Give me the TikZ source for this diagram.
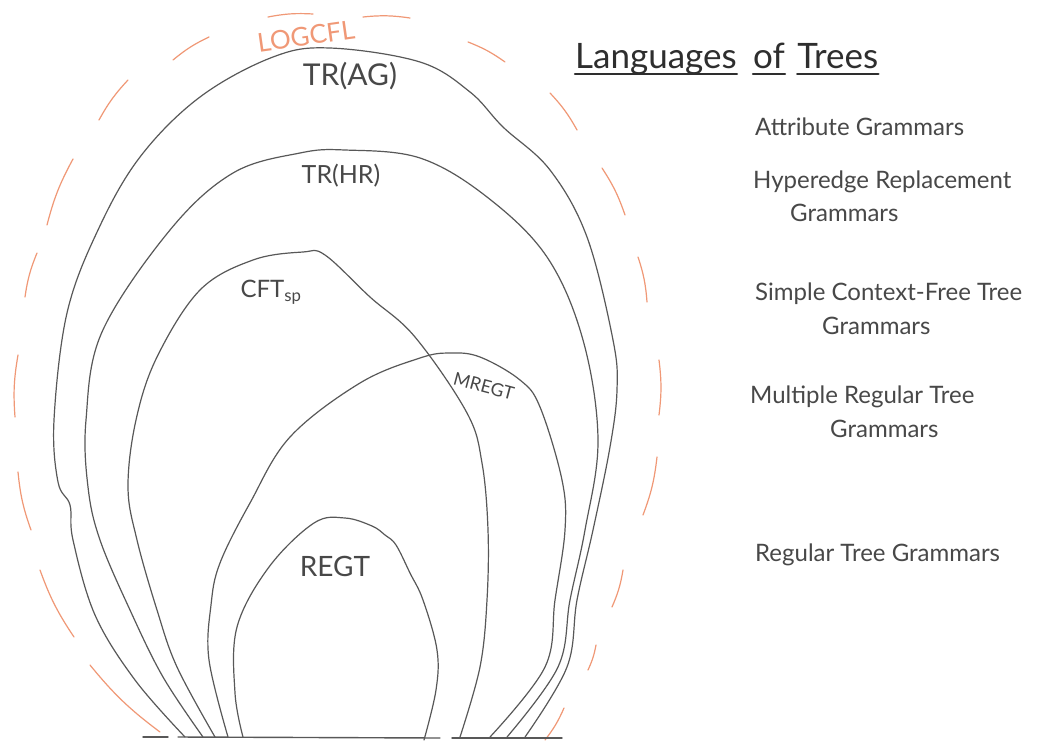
\documentclass[tikz,border=0pt]{standalone}
\usepackage{fontspec}
\setmainfont{Lato}
\usetikzlibrary{positioning}
\definecolor{inkgray}{RGB}{88,88,88}
\definecolor{inktext}{RGB}{72,72,72}
\definecolor{logorange}{RGB}{240,152,118}
\tikzset{region/.style={draw=inkgray,line width=1.2pt},
 groundline/.style={draw=inkgray,line width=1.4pt},
 logdash/.style={draw=logorange,line width=1.2pt},
 classlbl/.style={text=inktext,inner sep=0pt},
 gramlbl/.style={text=inktext,inner sep=0pt,anchor=west,font=\fontsize{24}{28}\selectfont},
 titleword/.style={text=black!82,inner sep=0pt,font=\fontsize{35}{40}\selectfont},
 uline/.style={draw=black!82,line width=2.2pt},
 every picture/.style={line join=round,line cap=round}}

\begin{document}
\begin{tikzpicture}[x=1pt,y=-1pt]
\path[fill=white] (0,0) rectangle (1043,744);
% LOGCFL, dashed outline
\foreach \xa/\ya/\xb/\yb in {160/732/90/665, 74/637/40/570, 31/530/18/472, 15/417/18/355,
 25/297/37/253, 47/225/73/159, 99/120/128/80, 173/60/209/37, 268/17/313/14, 363/17/410/18,
 468/42/505/62, 550/93/577/130, 602/168/625/215, 638/257/647/302, 659/360/659/415,
 657/457/643/515, 623/570/612/607, 596/645/588/670, 564/708/545/740}
 \draw[logdash] (\xa,\ya) to[bend left=7] (\xb,\yb);
\node[classlbl,text=logorange,rotate=8,font=\fontsize{26}{30}\selectfont] (tagLOG) at (306,36) {LOGCFL};
% nested classes
\draw[region] plot[smooth,tension=0.6] coordinates {(185,737) (135,680) (95,615) (73,540) (70,505)
 (58,482) (54,420) (67,313) (98,230) (140,157) (200,97) (273,57) (330,48) (420,62) (470,92)
 (503,127) (550,170) (587,237) (613,340) (617,390) (610,447) (593,530) (577,600) (567,667) (525,737)};
\draw[region] plot[smooth,tension=0.6] coordinates {(203,737) (163,677) (130,610) (100,540) (88,487)
 (86,420) (102,332) (170,230) (233,173) (300,153) (345,150) (420,158) (487,197)
 (547,257) (583,340) (598,440) (585,530) (570,600) (558,667) (507,737)};
\draw[region] plot[smooth,tension=0.6] coordinates {(215,737) (177,667) (157,610) (137,540) (128,487)
 (136,420) (157,357) (200,290) (253,260) (303,252) (325,255) (370,297) (415,337) (467,413)
 (482,463) (488,530) (487,600) (480,667) (460,737)};
\draw[region] plot[smooth,tension=0.6] coordinates {(228,737) (209,660) (211,605) (220,563) (250,503)
 (290,437) (360,383) (420,358) (450,353) (480,357) (520,380) (540,407) (562,480) (565,530)
 (555,600) (545,667) (490,737)};
\draw[region] plot[smooth,tension=0.6] coordinates {(243,737) (235,693) (237,627) (269,567) (314,523)
 (345,518) (372,526) (385,535) (396,545) (410,573) (423,600) (437,650) (436,690) (424,740)};
\node[classlbl,font=\fontsize{30}{34}\selectfont] (tagAG) at (350,76) {TR(AG)};
\node[classlbl,font=\fontsize{25}{29}\selectfont] (tagHR) at (341,176) {TR(HR)};
\node[classlbl,font=\fontsize{24}{28}\selectfont] (tagCFT) at (271,292) {CFT\textsubscript{sp}};
\node[classlbl,rotate=-15,font=\fontsize{18}{22}\selectfont] (tagMR) at (484,386) {MREGT};
\node[classlbl,font=\fontsize{28}{32}\selectfont] (tagRE) at (335,566) {REGT};
% ground
\draw[groundline] (143,737) -- (168,737);
\draw[groundline] (178,737) -- (440,738);
\draw[groundline] (452,738) -- (562,738);
% title
\node[titleword,anchor=base west] (ttlLang) at (575,68) {Languages};
\node[titleword,right=16pt of ttlLang.base east,anchor=base west] (ttlOf) {of};
\node[titleword,right=12pt of ttlOf.base east,anchor=base west] (ttlTrees) {Trees};
\foreach \w in {ttlLang,ttlOf,ttlTrees}
 \draw[uline] ([yshift=-6pt]\w.base west) -- ([yshift=-6pt]\w.base east);
% grammar names
\node[gramlbl] (lblAG) at (755,127) {Attribute Grammars};
\node[gramlbl] (lblHR) at (753,182) {Hyperedge Replacement};
\node[gramlbl] (lblHRb) at (790,213) {Grammars};
\node[gramlbl] (lblCF) at (755,294) {Simple Context-Free Tree};
\node[gramlbl] (lblCFb) at (822,326) {Grammars};
\node[gramlbl] (lblMR) at (750,397) {Multiple Regular Tree};
\node[gramlbl] (lblMRb) at (830,429) {Grammars};
\node[gramlbl] (lblRE) at (755,555) {Regular Tree Grammars};
\end{tikzpicture}
\end{document}
